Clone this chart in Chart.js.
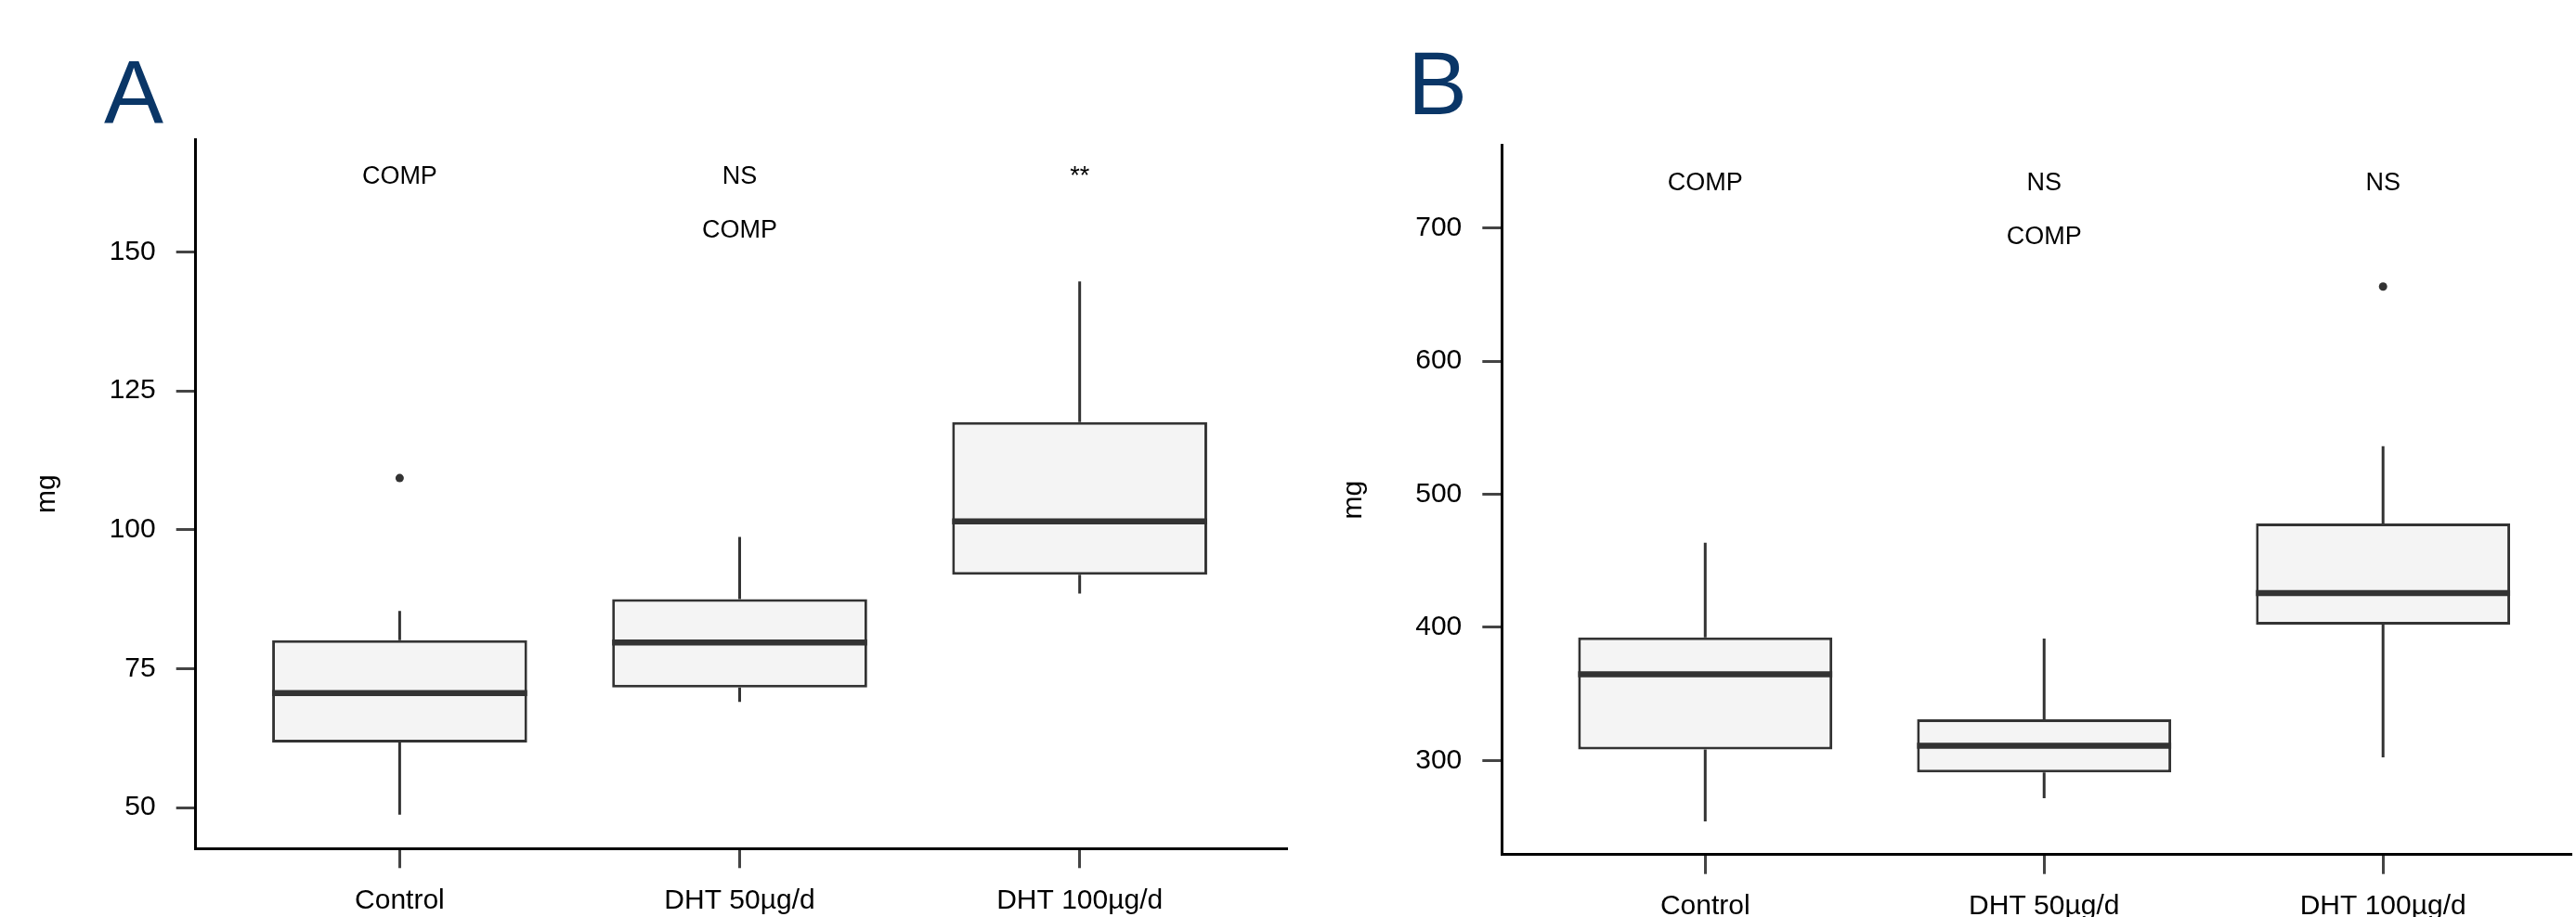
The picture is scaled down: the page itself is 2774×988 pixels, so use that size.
<!DOCTYPE html>
<html>
<head>
<meta charset="utf-8">
<script src="https://cdn.jsdelivr.net/npm/chart.js@4.4.1/dist/chart.umd.min.js"></script>
<style>
    body { margin: 0; background: #fff; width: 2774px; height: 988px; position: relative; overflow: hidden; }
    canvas { position: absolute; top: 0; }
    .panel-letter { position: absolute; font: 96px 'Liberation Sans', Arial, sans-serif; line-height: 96px; color: #0a3667; }
</style>
</head>
<body>
<div class="panel-letter" style="left:112px; top:51px;">A</div>
<div class="panel-letter" style="left:1516px; top:42px;">B</div>
<canvas id="chartA" width="1407" height="988" style="left:0;"></canvas>
<canvas id="chartB" width="1367" height="988" style="left:1407px;"></canvas>
<script>
// groups on the x axis
const categories = ['Control', 'DHT 50µg/d', 'DHT 100µg/d'];

// Panel A - box stats per group
const aMin = [48.7, 69.0, 88.5];
const aQ1 = [61.7, 71.6, 91.9];
const aMedian = [70.6, 79.7, 101.5];
const aQ3 = [80.1, 87.5, 119.4];
const aMax = [85.4, 98.7, 144.7];
const aOutliers = [[109.3], [], []];
const aTicks = [50, 75, 100, 125, 150];
const aLabelsTop = ['COMP', 'NS', '**'];
const aLabelsSecond = ['', 'COMP', ''];

// Panel B - box stats per group
const bMin = [254.2, 271.6, 302.3];
const bQ1 = [308.2, 291.0, 402.0];
const bMedian = [364.7, 311.1, 425.7];
const bQ3 = [392.4, 330.9, 478.0];
const bMax = [463.5, 391.5, 536.0];
const bOutliers = [[], [], [656.0]];
const bTicks = [300, 400, 500, 600, 700];
const bLabelsTop = ['COMP', 'NS', 'NS'];
const bLabelsSecond = ['', 'COMP', ''];

const BOX_HALF = 0.375;   // half box width in category units
const LINE_COLOR = '#333333';

Chart.defaults.font.family = "'Liberation Sans', Arial, sans-serif";
Chart.defaults.color = '#000';

// text rows above the boxes (COMP / NS / **)
const annotationPlugin = {
    id: 'annotations',
    afterDatasetsDraw(chart, args, opts) {
        const ctx = chart.ctx;
        const xs = chart.scales.x;
        const top = chart.chartArea.top;
        ctx.save();
        ctx.font = "27px 'Liberation Sans', Arial, sans-serif";
        ctx.fillStyle = '#000';
        ctx.textAlign = 'center';
        ctx.textBaseline = 'middle';
        opts.top.forEach((t, i) => {
            if (t) ctx.fillText(t, xs.getPixelForValue(i), top + 41);
        });
        opts.second.forEach((t, i) => {
            if (t) ctx.fillText(t, xs.getPixelForValue(i), top + 99);
        });
        ctx.restore();
    }
};

function makePanel(canvasId, s, cfg) {
    // whiskers: q3 -> max and q1 -> min, separated by gaps
    let whiskers = [];
    let medians = [];
    let outliers = [];
    categories.forEach((c, i) => {
        whiskers.push({x: i, y: s.q3[i]}, {x: i, y: s.max[i]}, {x: i, y: null});
        whiskers.push({x: i, y: s.q1[i]}, {x: i, y: s.min[i]}, {x: i, y: null});
        medians.push({x: i - BOX_HALF, y: s.median[i]}, {x: i + BOX_HALF, y: s.median[i]}, {x: i, y: null});
        s.outliers[i].forEach(v => outliers.push({x: i, y: v}));
    });

    const axisBorder = { display: true, color: '#000', width: 3 };

    return new Chart(document.getElementById(canvasId), {
        type: 'bar',
        data: {
            datasets: [
                {
                    type: 'line',
                    data: medians,
                    borderColor: LINE_COLOR,
                    borderWidth: 6.5,
                    borderCapStyle: 'butt',
                    pointRadius: 0,
                    spanGaps: false,
                    order: 0
                },
                {
                    type: 'line',
                    data: outliers,
                    showLine: false,
                    pointRadius: 4.5,
                    pointBackgroundColor: LINE_COLOR,
                    pointBorderWidth: 0,
                    order: 1
                },
                {
                    type: 'bar',
                    data: categories.map((c, i) => ({x: i, y: [s.q1[i], s.q3[i]]})),
                    backgroundColor: '#f4f4f4',
                    borderColor: LINE_COLOR,
                    borderWidth: 3,
                    borderSkipped: false,
                    barPercentage: BOX_HALF * 2,
                    categoryPercentage: 1,
                    order: 2
                },
                {
                    type: 'line',
                    data: whiskers,
                    borderColor: LINE_COLOR,
                    borderWidth: 3,
                    borderCapStyle: 'butt',
                    pointRadius: 0,
                    spanGaps: false,
                    order: 3
                }
            ]
        },
        options: {
            responsive: false,
            animation: false,
            events: [],
            layout: { padding: { top: cfg.padTop, right: cfg.padRight, left: 0, bottom: 0 } },
            plugins: {
                legend: { display: false },
                tooltip: { enabled: false },
                annotations: { top: cfg.labelsTop, second: cfg.labelsSecond }
            },
            scales: {
                x: {
                    type: 'linear',
                    min: -0.6,
                    max: cfg.xMax,
                    offset: false,
                    afterBuildTicks: (sc) => { sc.ticks = categories.map((c, i) => ({value: i})); },
                    afterFit: (sc) => { sc.height = cfg.xHeight; },
                    ticks: {
                        callback: (v) => categories[v],
                        font: { size: 30 },
                        color: '#000',
                        padding: 17,
                        maxRotation: 0,
                        autoSkip: false
                    },
                    grid: { offset: false, drawOnChartArea: false, drawTicks: true, tickLength: 21, tickColor: '#444', tickWidth: 3 },
                    border: axisBorder
                },
                y: {
                    type: 'linear',
                    min: cfg.yMin,
                    max: cfg.yMax,
                    afterBuildTicks: (sc) => { sc.ticks = cfg.ticks.map(v => ({value: v})); },
                    afterFit: (sc) => { sc.width = cfg.yWidth; },
                    ticks: { font: { size: 30 }, color: '#000', padding: 22 },
                    grid: { drawOnChartArea: false, drawTicks: true, tickLength: 21, tickColor: '#444', tickWidth: 3 },
                    border: axisBorder,
                    title: { display: true, text: 'mg', font: { size: 30 }, color: '#000', padding: { top: 33 } }
                }
            }
        },
        plugins: [annotationPlugin]
    });
}

makePanel('chartA',
    { min: aMin, q1: aQ1, median: aMedian, q3: aQ3, max: aMax, outliers: aOutliers },
    { ticks: aTicks, yMin: 42.6, yMax: 170.3, xMax: 2.61, padTop: 150, padRight: 21,
      yWidth: 210.7, xHeight: 73.7, labelsTop: aLabelsTop, labelsSecond: aLabelsSecond });

makePanel('chartB',
    { min: bMin, q1: bQ1, median: bMedian, q3: bQ3, max: bMax, outliers: bOutliers },
    { ticks: bTicks, yMin: 229.3, yMax: 762, xMax: 2.557, padTop: 156.7, padRight: 0,
      yWidth: 210.3, xHeight: 67.3, labelsTop: bLabelsTop, labelsSecond: bLabelsSecond });
</script>
</body>
</html>
